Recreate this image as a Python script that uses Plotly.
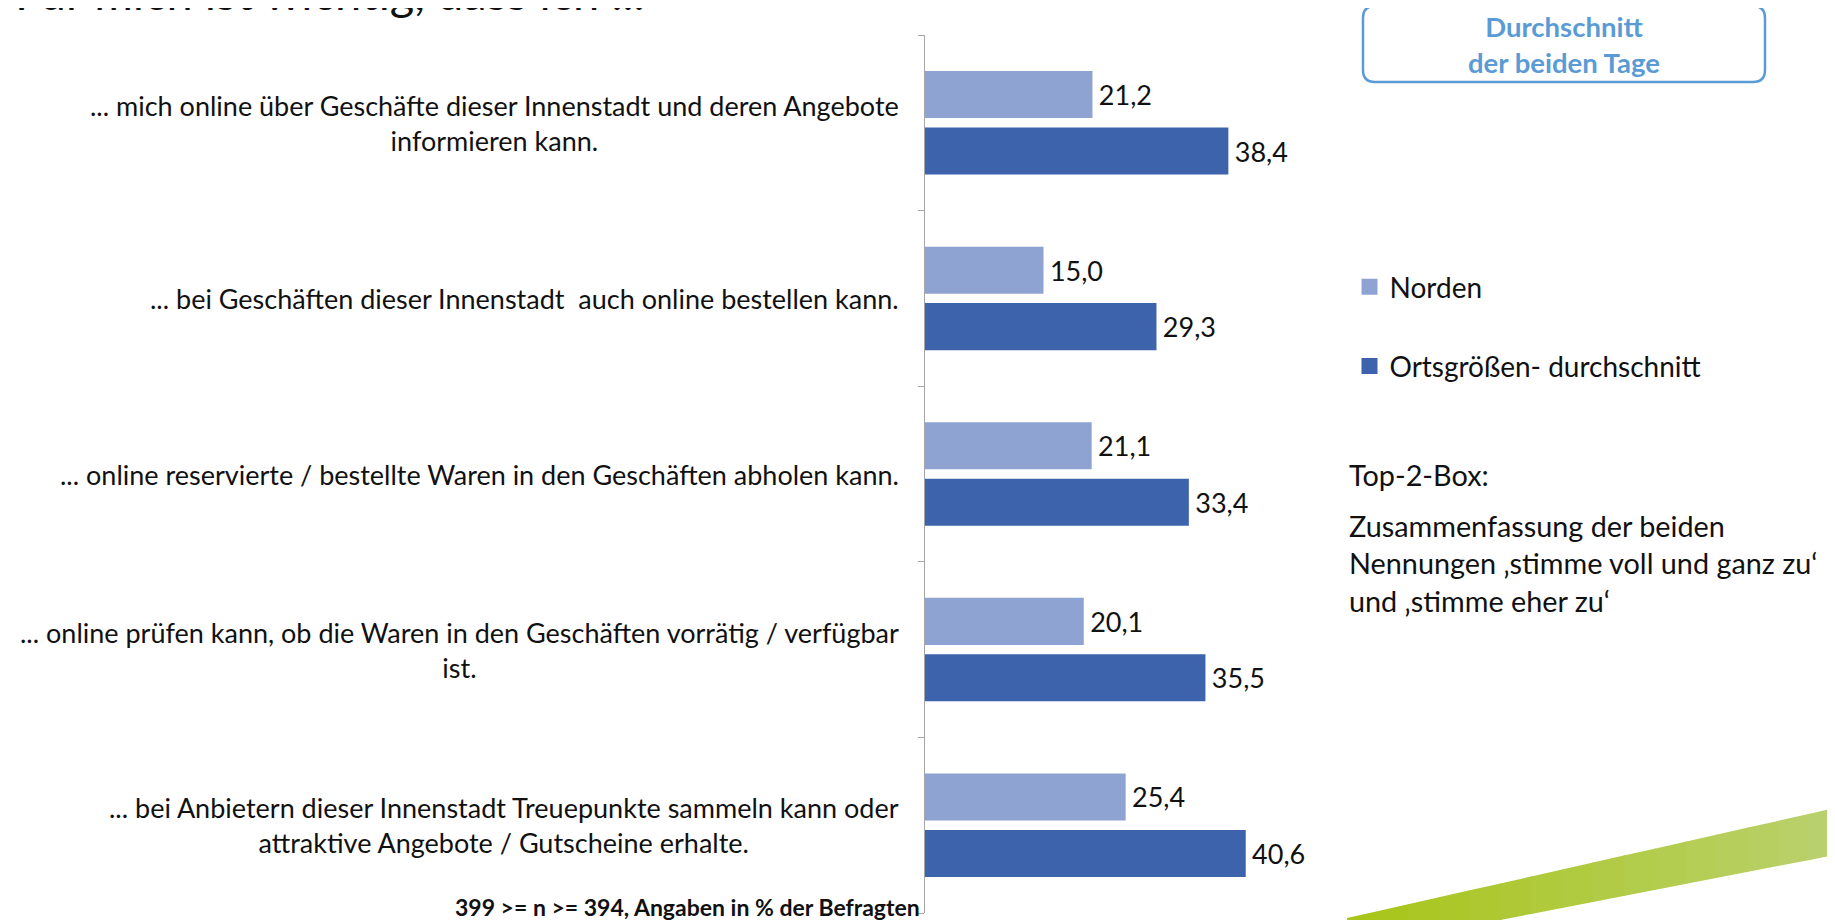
import plotly.graph_objects as go

categories = [
    "... mich online über Geschäfte dieser Innenstadt und deren Angebote<br>informieren kann.",
    "... bei Geschäften dieser Innenstadt  auch online bestellen kann.",
    "... online reservierte / bestellte Waren in den Geschäften abholen kann.",
    "... online prüfen kann, ob die Waren in den Geschäften vorrätig / verfügbar<br>ist.",
    "... bei Anbietern dieser Innenstadt Treuepunkte sammeln kann oder<br>attraktive Angebote / Gutscheine erhalte.",
]
norden = [21.2, 15.0, 21.1, 20.1, 25.4]
ortsgroesse = [38.4, 29.3, 33.4, 35.5, 40.6]
series_names = ["Norden", "Ortsgrößen- durchschnitt"]
colors = ["#8FA3D3", "#3C63AB"]

# page body has an 8px margin; positions below are given in screen pixels
OFF = 8
W, H = 1835, 920
L, T, B = 925 - OFF, 35 - OFF, 15
PW = 395
R = W - L - PW
PH = H - T - B

def xp(sx):
    return (sx - OFF - L) / PW

def yp(sy):
    return (H - B - (sy - OFF)) / PH

def fmt(v):
    return "\u2009" + f"{v:.1f}".replace(".", ",")

FONT = "Lato"
TXT = "#111111"

fig = go.Figure()
ids = list(range(len(categories)))
for name, vals, col in [(series_names[0], norden, colors[0]), (series_names[1], ortsgroesse, colors[1])]:
    fig.add_trace(go.Bar(
        y=ids, x=vals, orientation="h", name=name,
        marker=dict(color=col, line=dict(width=0)),
        text=[fmt(v) for v in vals], textposition="outside",
        textfont=dict(family=FONT, size=27, color=TXT),
        constraintext="none", cliponaxis=False,
        legendgroup=name, showlegend=False, hoverinfo="skip",
    ))
# legend entries (square swatches)
for name, col in zip(series_names, colors):
    fig.add_trace(go.Scatter(
        x=[None], y=[None], mode="markers", name=name, legendgroup=name,
        marker=dict(symbol="square", size=16, color=col, line=dict(width=0)),
        hoverinfo="skip",
    ))

annotations = []
for i, c in enumerate(categories):
    annotations.append(dict(
        x=0, xref="paper", y=i, yref="y", text=c, showarrow=False,
        xanchor="right", yanchor="middle", xshift=-24, align="center",
        font=dict(family=FONT, size=27, color=TXT),
    ))

# title (cut off by top of page)
annotations.append(dict(
    x=xp(13), xref="paper", y=yp(-8), yref="paper", text="Für mich ist wichtig, dass ich ...",
    showarrow=False, xanchor="left", yanchor="middle",
    font=dict(family=FONT, size=47, color=TXT),
))
# box title
annotations.append(dict(
    x=xp(1564), xref="paper", y=yp(44), yref="paper", text="<b>Durchschnitt<br>der beiden Tage</b>",
    showarrow=False, xanchor="center", yanchor="middle", align="center",
    font=dict(family=FONT, size=27.5, color="#5B9BD5"),
))
# Top-2-Box
annotations.append(dict(
    x=xp(1347), xref="paper", y=yp(475), yref="paper", text="Top-2-Box:",
    showarrow=False, xanchor="left", yanchor="middle", align="left",
    font=dict(family=FONT, size=28.8, color=TXT),
))
annotations.append(dict(
    x=xp(1347), xref="paper", y=yp(563), yref="paper",
    text="Zusammenfassung der beiden<br>Nennungen ‚stimme voll und ganz zu‘<br>und ‚stimme eher zu‘",
    showarrow=False, xanchor="left", yanchor="middle", align="left",
    font=dict(family=FONT, size=28.8, color=TXT),
))
# footnote
annotations.append(dict(
    x=xp(922), xref="paper", y=yp(907), yref="paper",
    text="<b>399 >= n >= 394, Angaben in % der Befragten</b>",
    showarrow=False, xanchor="right", yanchor="middle",
    font=dict(family=FONT, size=23, color=TXT),
))

def P(sx, sy):
    return f"{xp(sx):.5f},{yp(sy):.5f}"

# rounded box
x0, y0, x1, y1, r = 1363, 6, 1765, 82, 12
box_path = (
    f"M{P(x0 + r, y0)} L{P(x1 - r, y0)} Q{P(x1, y0)} {P(x1, y0 + r)} "
    f"L{P(x1, y1 - r)} Q{P(x1, y1)} {P(x1 - r, y1)} "
    f"L{P(x0 + r, y1)} Q{P(x0, y1)} {P(x0, y1 - r)} "
    f"L{P(x0, y0 + r)} Q{P(x0, y0)} {P(x0 + r, y0)} Z"
)
shapes = [dict(type="path", xref="paper", yref="paper", path=box_path,
               line=dict(color="#5B9BD5", width=2.5), fillcolor="rgba(0,0,0,0)")]

# green swoosh (decorative) with a stepped gradient
c_left = (0xA8, 0xC5, 0x1A)
c_right = (0xB9, 0xD1, 0x6C)
XL, XR, XB = 1347, 1840, 1500
def top_y(x):
    return 918 + (808 - 918) * (x - XL) / (1835 - XL)
def bot_y(x):
    return min(920.0, 920 + (855 - 920) * (x - XB) / (1835 - XB))
n = 16
for k in range(n):
    xa = XL + (XR - XL) * k / n
    xb = XL + (XR - XL) * (k + 1) / n
    t = k / (n - 1)
    col = "#%02X%02X%02X" % tuple(round(a + (b - a) * t) for a, b in zip(c_left, c_right))
    xa2 = xa - (0.6 if k > 0 else 0)
    xb2 = xb + (0.6 if k < n - 1 else 0)
    pts = [(xa2, top_y(xa2)), (xb2, top_y(xb2)), (xb2, bot_y(xb2))]
    if xa2 < XB < xb2:
        pts.append((XB, 920))
    pts.append((xa2, bot_y(xa2)))
    path = "M" + " L".join(P(px, py) for px, py in pts) + " Z"
    shapes.append(dict(type="path", xref="paper", yref="paper", path=path,
                       line=dict(width=0), fillcolor=col, layer="below"))

fig.update_layout(
    width=W, height=H,
    margin=dict(l=L, r=R, t=T, b=B, autoexpand=False),
    paper_bgcolor="white", plot_bgcolor="white",
    barmode="group", bargap=0.357, bargroupgap=0.167,
    separators=",.",
    showlegend=True,
    legend=dict(
        x=xp(1349.5), y=yp(262), xref="paper", yref="paper", xanchor="left", yanchor="top",
        font=dict(family=FONT, size=28, color=TXT), tracegroupgap=40,
        bgcolor="rgba(0,0,0,0)", traceorder="grouped", itemsizing="trace",
    ),
    xaxis=dict(range=[0, 50], visible=False, fixedrange=True),
    yaxis=dict(
        type="category", autorange="reversed", tickmode="array", tickvals=ids,
        ticktext=[""] * len(ids), showticklabels=False,
        tickson="boundaries", ticks="outside", ticklen=6, tickcolor="#A6A6A6",
        showline=True, linecolor="#A6A6A6", linewidth=1.2, showgrid=False, zeroline=False,
    ),
    annotations=annotations, shapes=shapes,
)

fig.write_html("out.html")
